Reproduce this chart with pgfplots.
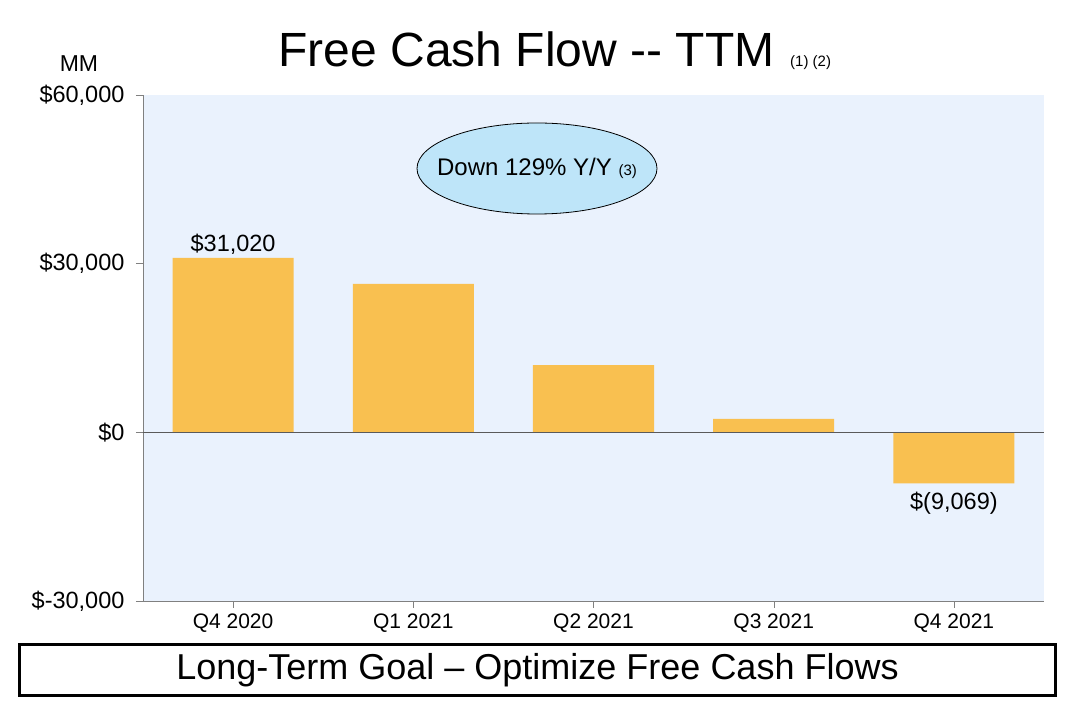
\documentclass[border=0pt]{standalone}
\usepackage{pgfplots}
\pgfplotsset{compat=1.18}
\usepackage{fontspec}
\setmainfont{Liberation Sans}

\definecolor{plotbg}{RGB}{234,242,253}
\definecolor{barfill}{RGB}{249,192,80}
\definecolor{ovalfill}{RGB}{190,229,249}
\definecolor{axisgray}{RGB}{128,128,128}
\definecolor{zerogray}{RGB}{90,90,90}

\newcommand{\fs}[1]{\fontsize{#1}{1.2\dimexpr#1pt\relax}\selectfont}

\begin{document}
\begin{tikzpicture}
    % page frame: axis south west corner sits at (0,0)
    \fill[white] (-143pt,-105pt) rectangle (931pt,601pt);
    \path[use as bounding box] (-143pt,-105pt) rectangle (931pt,601pt);

    \begin{axis}[
        scale only axis,
        width=901pt,
        height=506pt,
        xmin=-0.5, xmax=4.5,
        ymin=-30000, ymax=60000,
        ybar,
        bar width=121pt,
        bar shift=0pt,
        axis background/.style={fill=plotbg},
        axis lines=left,
        axis line style={draw=axisgray, -},
        tick style={draw=axisgray, thin},
        tick align=outside,
        major tick length=7pt,
        scaled y ticks=false,
        xtick={0,1,2,3,4},
        xticklabels={Q4 2020, Q1 2021, Q2 2021, Q3 2021, Q4 2021},
        ytick={-30000,0,30000,60000},
        yticklabels={{\$-30,000}, {\$0}, {\$30,000}, {\$60,000}},
        x tick label style={font=\fs{21}, yshift=-2pt},
        y tick label style={font=\fs{23.5}, xshift=-8pt},
        point meta=explicit symbolic,
        every node near coord/.append style={font=\fs{23.5}, text=black},
        clip=false,
    ]

    \addplot[fill=barfill, draw=none, nodes near coords]
        coordinates {
        (0,31020) [\$31,020]
        (1,26413) []
        (2,11970) []
        (3,2400) []
        (4,-9069) []
        };

    % label under the negative bar
    \addplot[draw=none, fill=none, nodes near coords,
        every node near coord/.append style={anchor=north, yshift=-5pt}]
        coordinates {
        (4,-9069) [\$(9,069)]
        };

    \draw[zerogray] (axis cs:-0.5,0) -- (axis cs:4.5,0);

    \end{axis}

    % title and unit
    \node[anchor=base, inner sep=0pt] at (383.5pt,534.3pt) {\fs{48}Free Cash Flow -{}- TTM};
    \node[anchor=base west, inner sep=0pt] at (647pt,534.3pt) {\fs{15}(1) (2)};
    \node[anchor=base, inner sep=0pt] at (-64pt,529.3pt) {\fs{23}MM};

    % callout
    \draw[black, thick, fill=ovalfill] (394pt,432.5pt) ellipse [x radius=120pt, y radius=45.5pt];
    \node[inner sep=0pt] at (394pt,433pt) {\fs{24}Down 129\% Y/Y \fs{15}(3)};

    % goal box
    \draw[line width=2.5pt] (-123.5pt,-43.5pt) rectangle (912.5pt,-94.5pt);
    \node[anchor=base, inner sep=0pt] at (394.5pt,-79pt) {\fs{36}Long-Term Goal – Optimize Free Cash Flows};
\end{tikzpicture}
\end{document}
